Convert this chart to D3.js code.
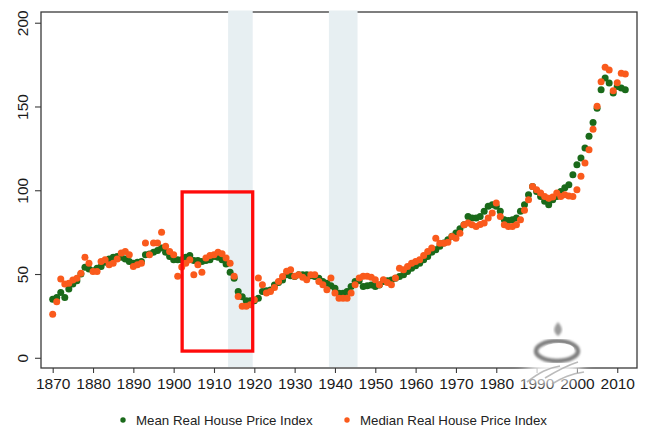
<!DOCTYPE html>
<html><head><meta charset="utf-8">
<script src="https://cdn.jsdelivr.net/npm/d3@7"></script>
<style>body{margin:0;background:#fff}svg{display:block}</style>
</head><body>
<svg id="c" width="650" height="439"></svg>
<script>
const years = d3.range(1870, 2013);
const meanIndex = [
35,36,39,36,41,44,46,50,54,53,
52,53.5,54.5,57,59,60,60.5,60,59,57.5,
56.5,57,57.5,61.5,62,63,64,65.5,63,60.5,
58.5,58.5,58.5,60,61,58,58,57.5,58,58.5,
60.5,60,58.5,56,51,47.5,39.5,36.5,34,34,
34,35.5,39.5,40,40.5,43.5,45,46.5,49.5,49,
48.5,49.5,49.5,49.5,49,48.5,47.5,45.5,44.5,43,
41.5,38.5,38.5,39.5,42.5,45.5,46,42.5,43,43.5,
42.5,43.5,45.5,46,46.5,47.5,48.5,49.5,51.5,53.5,
55,56.5,58.5,60.5,63,64.5,66.5,68.5,70.5,72.5,
74.5,77,79.4,84.4,83.5,83.4,84.4,87.4,90.4,91.4,
90.4,87.4,82.4,82,82.4,83.4,87.4,91.4,97.3,102.3,
99.3,96.3,93.5,91.4,94.3,96.3,99.3,101.5,103.3,109.3,
115.2,119.2,125.2,132.2,140.5,149,160,167,164,158,
162,161,160
];
const medianIndex = [
26,33.5,47,44,44.5,46.5,47.5,50.5,60,56.5,
51.5,51.5,57.5,58.5,55.5,56.5,59,62.5,63.5,61.5,
54.5,55.5,56.5,68.5,61.5,68.5,68.5,75,66.5,63.5,
61.5,48.6,54.2,56.5,58.5,49.6,55.6,51,59.5,61,
61.5,63,62.1,59.5,56.5,48.6,36.6,30.7,30.7,31.7,
34.7,47.6,43.6,38.6,39.6,42,45.6,48.5,51.6,52.6,
48.6,49.6,48,46.6,49.6,49.6,45.6,43.6,40.6,47.6,
38.6,35.6,35.6,35.6,38.6,43.6,47.6,48.6,48.6,48,
46.6,43.6,46.6,45,43.6,47.6,53.5,52.5,54.5,56.5,
57.5,58.5,61,63.5,65.5,71.4,68.4,68.4,69,72.4,
71.4,74.4,79.4,80.4,79.4,78.4,79.5,80.4,83.4,86.4,
92.4,84.4,79.4,78.4,78.4,79.4,82.4,88,94.3,102.3,
100.3,98.3,96.3,95.3,96,98.3,96.3,97.3,96.5,96.3,
100.3,108.3,116.2,124.2,136.4,150.2,164.8,173.4,171.8,159.4,
164.2,169.8,169.4
];
const xTicks = d3.range(1870, 2011, 10);
const yTicks = [0, 50, 100, 150, 200];
const warBands = [[1913.5, 1919.6], [1938.5, 1945.6]];
const highlight = {x0: 1902.1, x1: 1919.6, y0: 4, y1: 99};
const seriesNames = ["Mean Real House Price Index", "Median Real House Price Index"];
const seriesColors = ["#1a6a1a", "#fa5a1c"];

const svg = d3.select("#c");
const L = 41, R = 637, T = 12, B = 368;
const x = d3.scaleLinear().domain([1867.1, 2014.9]).range([L, R]);
const y = d3.scaleLinear().domain([-6.1, 206.4]).range([B, T]);

// frame
svg.append("rect").attr("x", L).attr("y", T).attr("width", R - L).attr("height", B - T)
  .attr("fill", "none").attr("stroke", "#3a3a3a").attr("stroke-width", 1.3);

// bands
svg.selectAll(".band").data(warBands).join("rect")
  .attr("x", d => x(d[0])).attr("width", d => x(d[1]) - x(d[0]))
  .attr("y", T - 1.5).attr("height", B - T + 0.5)
  .attr("fill", "#e7eff2");

// axes
const xa = svg.append("g").attr("transform", `translate(0,${B})`)
  .call(d3.axisBottom(x).tickValues(xTicks).tickFormat(d3.format("d")).tickSize(5).tickPadding(4));
const ya = svg.append("g").attr("transform", `translate(${L},0)`)
  .call(d3.axisLeft(y).tickValues(yTicks).tickSize(6).tickPadding(4));
[xa, ya].forEach(g => {
  g.select(".domain").remove();
  g.selectAll(".tick line").attr("stroke", "#3a3a3a").attr("stroke-width", 1.1);
  g.selectAll("text").attr("font-family", "Liberation Sans, Arial, sans-serif")
    .attr("font-size", 15.5).attr("fill", "#1a1a1a");
});
xa.selectAll("text").attr("dy", "0.72em").attr("y", 9.5);
ya.selectAll("text").attr("text-anchor", "middle").attr("x", 0).attr("dy", 0)
  .attr("transform", "translate(-13,0) rotate(-90)");

// points
const series = [meanIndex, medianIndex];
series.forEach((vals, i) => {
  svg.append("g").selectAll("circle").data(years.map((yr, k) => [yr, vals[k]])).join("circle")
    .attr("cx", d => x(d[0])).attr("cy", d => y(d[1])).attr("r", 3.5)
    .attr("fill", seriesColors[i]);
});

// highlight box
svg.append("rect")
  .attr("x", x(highlight.x0)).attr("y", y(highlight.y1))
  .attr("width", x(highlight.x1) - x(highlight.x0)).attr("height", y(highlight.y0) - y(highlight.y1))
  .attr("fill", "none").attr("stroke", "#ff0a0a").attr("stroke-width", 3.3);

// watermark
const defs = svg.append("defs");
const f = defs.append("filter").attr("id", "blur").attr("x", "-50%").attr("y", "-50%").attr("width", "200%").attr("height", "200%");
f.append("feGaussianBlur").attr("stdDeviation", 4);
const f2 = defs.append("filter").attr("id", "blur2");
f2.append("feGaussianBlur").attr("stdDeviation", 1);
const wm = svg.append("g");
wm.append("ellipse").attr("cx", 557).attr("cy", 352).attr("rx", 34).attr("ry", 22)
  .attr("fill", "#fff").attr("opacity", 0.9).attr("filter", "url(#blur)");
wm.append("ellipse").attr("cx", 548).attr("cy", 376).attr("rx", 30).attr("ry", 10)
  .attr("fill", "#fff").attr("opacity", 0.7).attr("filter", "url(#blur)");
wm.append("ellipse").attr("cx", 557).attr("cy", 351).attr("rx", 21).attr("ry", 10)
  .attr("fill", "none").attr("stroke", "#808080").attr("stroke-width", 4.5).attr("filter", "url(#blur2)");
wm.append("ellipse").attr("cx", 559).attr("cy", 349).attr("rx", 15).attr("ry", 6)
  .attr("fill", "#fff");
wm.append("path").attr("d", "M558,322 C562,327 564,331 558,336 C552,331 554,327 558,322 Z")
  .attr("fill", "#9a9a9a").attr("filter", "url(#blur2)");
wm.append("path").attr("d", "M527,382 C540,372 548,368 560,366 M545,378 C555,372 565,366 578,362 M552,384 C562,378 570,374 584,372")
  .attr("fill", "none").attr("stroke", "#aaa").attr("stroke-width", 1.6).attr("opacity", 0.8);

// legend
const lg = svg.append("g").attr("font-family", "Liberation Sans, Arial, sans-serif").attr("font-size", 13.3).attr("fill", "#222");
const lx = [123, 347];
seriesNames.forEach((n, i) => {
  lg.append("circle").attr("cx", lx[i]).attr("cy", 420).attr("r", 2.7).attr("fill", seriesColors[i]);
  lg.append("text").attr("x", lx[i] + 13).attr("y", 425).text(n);
});
</script>
</body></html>
